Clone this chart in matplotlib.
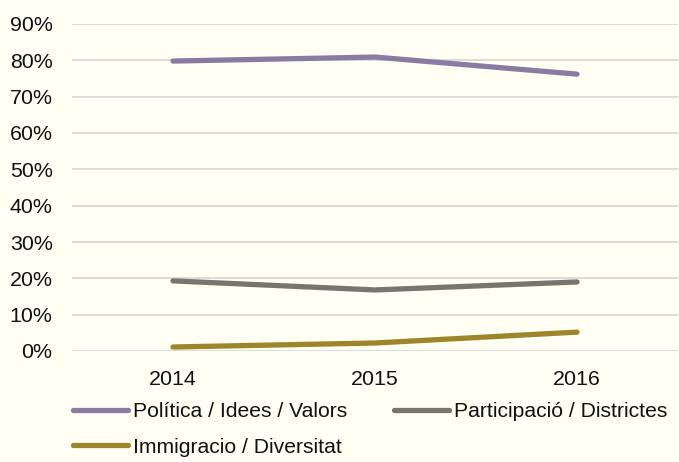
import matplotlib
matplotlib.use("Agg")
import matplotlib.pyplot as plt
from matplotlib.ticker import FuncFormatter

years = ["2014", "2015", "2016"]
politica = [0.798, 0.809, 0.762]
participacio = [0.193, 0.168, 0.190]
immigracio = [0.011, 0.022, 0.052]
labels = ["Política / Idees / Valors", "Participació / Districtes", "Immigracio / Diversitat"]
colors = ["#8C7BA1", "#76766E", "#9C8629"]
yticks = [0, 0.1, 0.2, 0.3, 0.4, 0.5, 0.6, 0.7, 0.8, 0.9]

bg = "#FFFFF4"
plt.rcParams['font.family'] = ['Liberation Sans', 'DejaVu Sans']
W, H = 679, 462
fig = plt.figure(figsize=(W/100, H/100), dpi=100, facecolor=bg)
ax = fig.add_axes([72/W, (H-351)/H, 606/W, (351-24)/H], facecolor=bg)

x = list(range(len(years)))
lines = []
for series, lab, c in zip([politica, participacio, immigracio], labels, colors):
    ln, = ax.plot(x, series, color=c, lw=3.8, solid_capstyle='round', label=lab, zorder=3)
    lines.append(ln)

ax.set_xlim(-0.5, len(years) - 0.5)
ax.set_ylim(0, 0.9)
ax.set_yticks(yticks)
ax.yaxis.set_major_formatter(FuncFormatter(lambda v, p: f"{v*100:.0f}%"))
ax.set_xticks(x)
ax.set_xticklabels(years)
ax.grid(axis='y', color='#D9D9D9', lw=1.3, zorder=0)
for s in ax.spines.values():
    s.set_visible(False)
ax.tick_params(axis='both', length=0, labelsize=15.4, colors='#111111')
ax.tick_params(axis='y', pad=14)
ax.tick_params(axis='x', pad=14)

order = [0, 2, 1]
leg = fig.legend([lines[i] for i in order], [labels[i] for i in order], ncol=2,
                 loc='upper left', bbox_to_anchor=(73/W, 1 - 402/H),
                 frameon=False, fontsize=15.2, handlelength=2.6, handletextpad=0.25,
                 columnspacing=2.2, labelspacing=0.8, borderaxespad=0, borderpad=0)
for t in leg.get_texts():
    t.set_color('#111111')

fig.savefig("out.png", dpi=100, facecolor=bg)
